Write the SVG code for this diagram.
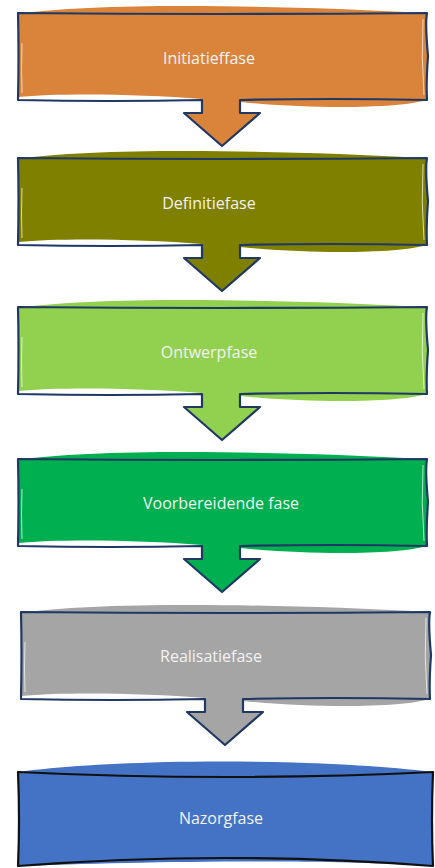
<svg xmlns="http://www.w3.org/2000/svg" width="435" height="868" viewBox="0 0 435 868">
<style>
.ol{fill:none;stroke:#1F3864;stroke-width:2.2;stroke-linejoin:round}
.hl{fill:none;stroke:#FFFFFF;stroke-width:1;opacity:0.7}
.tx{font-family:"Open Sans","Liberation Sans",sans-serif;font-size:16px;fill:#F2F2F2;text-anchor:middle}
</style>
<defs>
<path id="fillA" d="M18,1 C90,-10 260,-9 427,0 L427,87 C400,95 320,97 240,89 L240,100 L260,100 L222,133 L184,100 L202,100 L202,86 C140,81 60,80 18,84 Z"/>
<path id="olA" d="M18,0 Q220,2 427,0 Q425,10 428,43 Q426,70 427,87 Q330,85 240,87 L240,100 L260,100 L222,133 L184,100 L202,100 L202,87 Q110,89 18,87 Q19,40 18,0 Z"/>
<path id="hlA" d="M423,6 Q421,45 424,82 M22,30 Q21,55 22,80"/>
</defs>
<g id="node1" transform="translate(0,13)">
<use href="#fillA" fill="#D9843A"/>
<use href="#hlA" class="hl"/>
<use href="#olA" class="ol"/>
<text class="tx" x="209" y="51">Initiatieffase</text>
</g>
<g id="node2" transform="translate(0,158)">
<use href="#fillA" fill="#808000"/>
<use href="#hlA" class="hl"/>
<use href="#olA" class="ol"/>
<text class="tx" x="209" y="51">Definitiefase</text>
</g>
<g id="node3" transform="translate(0,307)">
<use href="#fillA" fill="#92D050"/>
<use href="#hlA" class="hl"/>
<use href="#olA" class="ol"/>
<text class="tx" x="209" y="51">Ontwerpfase</text>
</g>
<g id="node4" transform="translate(0,459)">
<use href="#fillA" fill="#00B050"/>
<use href="#hlA" class="hl"/>
<use href="#olA" class="ol"/>
<text class="tx" x="221" y="50">Voorbereidende fase</text>
</g>
<g id="node5" transform="translate(3,612)">
<use href="#fillA" fill="#A5A5A5"/>
<use href="#hlA" class="hl"/>
<use href="#olA" class="ol"/>
<text class="tx" x="208" y="50">Realisatiefase</text>
</g>
<g id="node6">
<path d="M18,772 C120,758 320,758 433,772 L433,866 C320,858 120,862 18,866 Z" fill="#4472C4"/>
<path d="M18,772 Q225,782 433,772 Q431,820 433,866 Q225,850 18,866 Q20,820 18,772 Z" fill="none" stroke="#111111" stroke-width="2.2" stroke-linejoin="round"/>
<text class="tx" x="221" y="824">Nazorgfase</text>
</g>
<g id="connectors"></g>
</svg>
